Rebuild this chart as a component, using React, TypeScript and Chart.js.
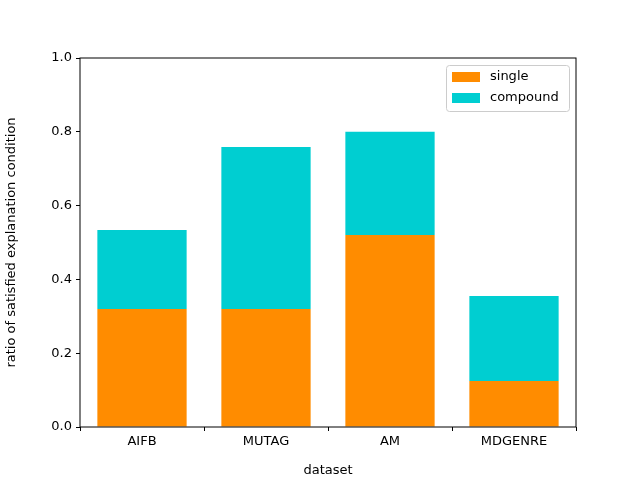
import { Chart, registerables } from 'chart.js';
import { useEffect, useRef } from 'react';

Chart.register(...registerables);

const datasets = ['AIFB', 'MUTAG', 'AM', 'MDGENRE'];
const singleValues = [0.32, 0.32, 0.52, 0.125];
const compoundValues = [0.214, 0.439, 0.28, 0.23];
const seriesNames = ['single', 'compound'];
const seriesColors = ['#ff8c00', '#00ced1'];

const FONT = 'DejaVu Sans';

const frameAndLegend = {
    id: 'frameAndLegend',
    afterDraw(chart: Chart) {
        const { ctx, chartArea } = chart;
        ctx.save();
        ctx.strokeStyle = '#000';
        ctx.lineWidth = 1;
        ctx.strokeRect(chartArea.left, chartArea.top, chartArea.right - chartArea.left, chartArea.bottom - chartArea.top);
        // legend box in the upper right
        const w = 123, h = 46;
        const x = chartArea.right - 7 - w, y = chartArea.top + 7;
        ctx.fillStyle = 'rgba(255,255,255,0.8)';
        ctx.strokeStyle = '#cccccc';
        ctx.beginPath();
        ctx.roundRect(x + 0.5, y + 0.5, w, h, 3);
        ctx.fill();
        ctx.stroke();
        ctx.font = `13px "${FONT}"`;
        ctx.textBaseline = 'middle';
        seriesNames.forEach((name, i) => {
            const cy = y + 12 + i * 21;
            ctx.fillStyle = seriesColors[i];
            ctx.fillRect(x + 6, cy - 5, 28, 10);
            ctx.fillStyle = '#000';
            ctx.fillText(name, x + 44, cy);
        });
        ctx.restore();
    },
};

const App = () => {
    const chartRef = useRef<HTMLCanvasElement | null>(null);
    const chartInstance = useRef<Chart<'bar'> | null>(null);

    useEffect(() => {
        const ctx = chartRef.current?.getContext('2d');
        if (!ctx) return;
        if (chartInstance.current) chartInstance.current.destroy();

        chartInstance.current = new Chart(ctx, {
            type: 'bar',
            data: {
                labels: datasets,
                datasets: [
                    { label: seriesNames[0], data: singleValues, backgroundColor: seriesColors[0] },
                    { label: seriesNames[1], data: compoundValues, backgroundColor: seriesColors[1] },
                ],
            },
            options: {
                responsive: false,
                maintainAspectRatio: false,
                animation: false,
                layout: { padding: { left: 0, top: 58, right: 64, bottom: 0 } },
                plugins: { legend: { display: false }, tooltip: { enabled: false } },
                scales: {
                    x: {
                        stacked: true,
                        barPercentage: 0.5,
                        categoryPercentage: 1,
                        grid: { drawOnChartArea: false, drawTicks: true, tickLength: 4, color: '#000' },
                        border: { display: false },
                        ticks: { color: '#000', font: { family: FONT, size: 13 }, padding: 3 },
                        title: { display: true, text: 'dataset', color: '#000', font: { family: FONT, size: 13 }, padding: 2 },
                        afterFit: (s: any) => { s.height = 53; },
                    },
                    y: {
                        stacked: true,
                        min: 0,
                        max: 1,
                        grid: { drawOnChartArea: false, drawTicks: true, tickLength: 4, color: '#000' },
                        border: { display: false },
                        ticks: {
                            stepSize: 0.2,
                            color: '#000',
                            font: { family: FONT, size: 13 },
                            padding: 4,
                            callback: (v: any) => Number(v).toFixed(1),
                        },
                        title: { display: true, text: 'ratio of satisfied explanation condition', color: '#000', font: { family: FONT, size: 13 }, padding: 4 },
                        afterFit: (s: any) => { s.width = 80; },
                    },
                },
            },
            plugins: [frameAndLegend],
        });

        return () => {
            if (chartInstance.current) chartInstance.current.destroy();
        };
    }, []);

    return (
        <div style={{ position: 'fixed', left: 0, top: 0, width: 640, height: 480, background: '#fff' }}>
            <canvas ref={chartRef} width={640} height={480} />
        </div>
    );
};

export default App;
